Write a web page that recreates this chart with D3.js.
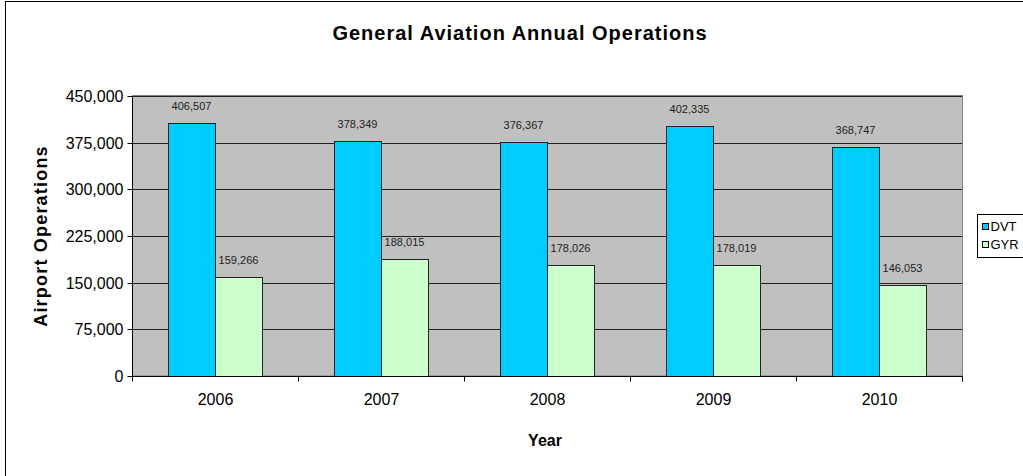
<!DOCTYPE html>
<html>
<head>
<meta charset="utf-8">
<script src="https://cdn.jsdelivr.net/npm/d3@7"></script>
<style>
  body { margin: 0; background: #fff; }
  svg { display: block; font-family: "Liberation Sans", Arial, sans-serif; }
</style>
</head>
<body>
<svg id="chart" width="1023" height="476"></svg>
<script>
// data
const years = ['2006', '2007', '2008', '2009', '2010'];
const series = ['DVT', 'GYR'];
const dvt = [406507, 378349, 376367, 402335, 368747];
const gyr = [159266, 188015, 178026, 178019, 146053];
const yTicks = [0, 75000, 150000, 225000, 300000, 375000, 450000];
const colors = ['#00CCFF', '#CCFFCC'];

const svg = d3.select('#chart');

const plot = { left: 132, right: 962, top: 96, bottom: 376 };

// outer chart border (runs off the right and bottom of the picture)
svg.append('rect')
  .attr('x', 5.5).attr('y', 1.5)
  .attr('width', 1040).attr('height', 500)
  .attr('fill', '#fff')
  .attr('stroke', '#000')
  .attr('stroke-width', 1);

const x = d3.scaleBand()
  .domain(years)
  .range([plot.left, plot.right])
  .padding(0);

const xSub = d3.scaleBand()
  .domain(series)
  .range([0, x.bandwidth()])
  .paddingInner(0)
  .paddingOuter(0.766);

const y = d3.scaleLinear()
  .domain([0, 450000])
  .range([plot.bottom, plot.top]);

// plot background
svg.append('rect')
  .attr('x', plot.left + 0.5).attr('y', plot.top - 0.5)
  .attr('width', plot.right - plot.left).attr('height', plot.bottom - plot.top + 0.5)
  .attr('fill', '#C0C0C0')
  .attr('stroke', '#808080')
  .attr('stroke-width', 1);

// gridlines
svg.append('g')
  .selectAll('line')
  .data(yTicks.filter((d) => d > 0))
  .join('line')
  .attr('x1', plot.left)
  .attr('x2', plot.right)
  .attr('y1', (d) => Math.round(y(d)) + 0.5)
  .attr('y2', (d) => Math.round(y(d)) + 0.5)
  .attr('stroke', '#222')
  .attr('stroke-width', 1);

// bars
const rows = years.map((yr, i) => ({ year: yr, values: [dvt[i], gyr[i]] }));

const groups = svg.append('g')
  .selectAll('g')
  .data(rows)
  .join('g')
  .attr('transform', (d) => `translate(${x(d.year)},0)`);

groups.selectAll('rect')
  .data((d) => d.values.map((v, i) => ({ key: series[i], value: v, i: i })))
  .join('rect')
  .attr('x', (d) => Math.round(xSub(d.key)) + 0.5)
  .attr('y', (d) => Math.round(y(d.value)) + 0.5)
  .attr('width', Math.round(xSub.bandwidth()))
  .attr('height', (d) => plot.bottom - Math.round(y(d.value)))
  .attr('fill', (d) => colors[d.i])
  .attr('stroke', '#222')
  .attr('stroke-width', 1);

// value labels
groups.selectAll('text')
  .data((d) => d.values.map((v, i) => ({ key: series[i], value: v })))
  .join('text')
  .attr('x', (d) => xSub(d.key) + xSub.bandwidth() / 2)
  .attr('y', (d) => y(d.value) - 13)
  .attr('text-anchor', 'middle')
  .style('font-size', '11px')
  .style('fill', '#222')
  .text((d) => d3.format(',')(d.value));

// y axis
const yAxis = svg.append('g')
  .attr('transform', `translate(${plot.left + 0.5},0.5)`)
  .call(d3.axisLeft(y).tickValues(yTicks).tickSize(5).tickPadding(4).tickFormat(d3.format(',')));
yAxis.select('.domain').attr('d', `M0,${plot.top}V${plot.bottom}`).attr('stroke', '#000');
yAxis.selectAll('.tick line').attr('stroke', '#000');
yAxis.selectAll('.tick text')
  .style('font-size', '16px')
  .style('font-family', '"Liberation Sans", Arial, sans-serif')
  .attr('fill', '#000');
yAxis.selectAll('.tick').attr('transform', (d) => `translate(0,${Math.round(y(d))})`);

// x axis
const xAxis = svg.append('g')
  .attr('transform', `translate(0.5,${plot.bottom + 0.5})`)
  .call(d3.axisBottom(x).tickSize(0).tickPadding(17));
xAxis.select('.domain').attr('d', `M${plot.left},0H${plot.right}`).attr('stroke', '#000');
xAxis.selectAll('.tick text')
  .style('font-size', '16px')
  .style('font-family', '"Liberation Sans", Arial, sans-serif')
  .attr('fill', '#000');

// category boundary ticks
xAxis.append('g')
  .selectAll('line')
  .data(years.map((d) => x(d)).concat([plot.right]))
  .join('line')
  .attr('x1', (d) => d)
  .attr('x2', (d) => d)
  .attr('y1', 0)
  .attr('y2', 5)
  .attr('stroke', '#000');

// title
svg.append('text')
  .attr('x', 520)
  .attr('y', 40)
  .attr('text-anchor', 'middle')
  .style('font-size', '20px')
  .style('font-weight', 'bold')
  .style('letter-spacing', '1px')
  .text('General Aviation Annual Operations');

// axis titles
svg.append('text')
  .attr('transform', `translate(47,${(plot.top + plot.bottom) / 2}) rotate(-90)`)
  .attr('text-anchor', 'middle')
  .style('font-size', '18px')
  .style('font-weight', 'bold')
  .style('letter-spacing', '1.2px')
  .text('Airport Operations');

svg.append('text')
  .attr('x', 545)
  .attr('y', 446)
  .attr('text-anchor', 'middle')
  .style('font-size', '16px')
  .style('font-weight', 'bold')
  .text('Year');

// legend
const legend = svg.append('g').attr('transform', 'translate(977.5,214.5)');
legend.append('rect')
  .attr('width', 60).attr('height', 43)
  .attr('fill', '#fff')
  .attr('stroke', '#000');
const items = legend.selectAll('g')
  .data(series)
  .join('g')
  .attr('transform', (d, i) => `translate(0,${i * 18})`);
items.append('rect')
  .attr('x', 5).attr('y', 9)
  .attr('width', 6).attr('height', 6)
  .attr('fill', (d, i) => colors[i])
  .attr('stroke', '#000');
items.append('text')
  .attr('x', 13)
  .attr('y', 16)
  .style('font-size', '13px')
  .text((d) => d);
</script>
</body>
</html>
